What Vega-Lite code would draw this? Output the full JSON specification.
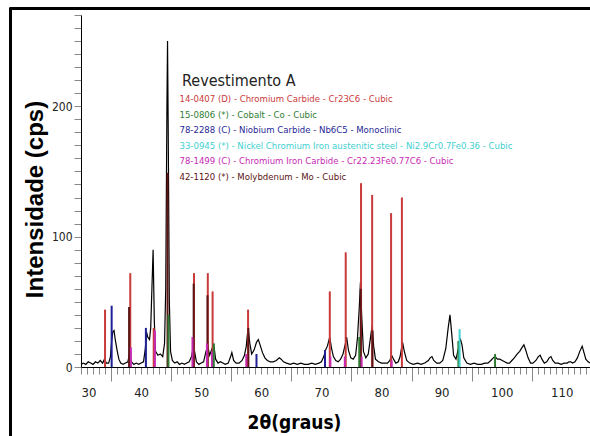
{
  "$schema": "https://vega.github.io/schema/vega-lite/v6.json",
  "width": 509,
  "height": 352,
  "autosize": "none",
  "padding": {"left": 81, "top": 15, "right": 0, "bottom": 69},
  "background": "white",
  "config": {
    "view": {"stroke": null},
    "font": "DejaVu Sans Condensed, Liberation Sans, sans-serif"
  },
  "datasets": {
    "trace": [
      {"t":30.0,"cps":2},{"t":30.4,"cps":3},{"t":30.8,"cps":2},{"t":31.2,"cps":4},{"t":31.6,"cps":3},{"t":32.0,"cps":2},{"t":32.4,"cps":4},{"t":32.8,"cps":3},{"t":33.2,"cps":5},{"t":33.6,"cps":3},{"t":33.9,"cps":6},{"t":34.2,"cps":3},{"t":34.6,"cps":3},{"t":34.9,"cps":8},{"t":35.1,"cps":20},{"t":35.3,"cps":27},{"t":35.5,"cps":28},{"t":35.7,"cps":21},{"t":36.0,"cps":13},{"t":36.3,"cps":6},{"t":36.6,"cps":3},{"t":37.0,"cps":2},{"t":37.4,"cps":3},{"t":37.8,"cps":4},{"t":38.1,"cps":11},{"t":38.4,"cps":4},{"t":38.8,"cps":2},{"t":39.2,"cps":3},{"t":39.6,"cps":2},{"t":40.0,"cps":3},{"t":40.4,"cps":4},{"t":40.7,"cps":14},{"t":40.9,"cps":27},{"t":41.1,"cps":23},{"t":41.4,"cps":21},{"t":41.6,"cps":30},{"t":41.8,"cps":60},{"t":42.0,"cps":90},{"t":42.2,"cps":35},{"t":42.4,"cps":12},{"t":42.8,"cps":9},{"t":43.2,"cps":10},{"t":43.6,"cps":8},{"t":43.9,"cps":18},{"t":44.1,"cps":60},{"t":44.3,"cps":200},{"t":44.4,"cps":250},{"t":44.5,"cps":190},{"t":44.7,"cps":50},{"t":44.9,"cps":12},{"t":45.2,"cps":5},{"t":45.6,"cps":3},{"t":46.0,"cps":4},{"t":46.4,"cps":2},{"t":46.8,"cps":3},{"t":47.2,"cps":2},{"t":47.6,"cps":3},{"t":48.0,"cps":4},{"t":48.4,"cps":8},{"t":48.7,"cps":16},{"t":48.9,"cps":12},{"t":49.2,"cps":4},{"t":49.6,"cps":2},{"t":50.0,"cps":3},{"t":50.4,"cps":4},{"t":50.8,"cps":12},{"t":51.1,"cps":16},{"t":51.4,"cps":9},{"t":51.8,"cps":14},{"t":52.1,"cps":17},{"t":52.4,"cps":6},{"t":52.8,"cps":3},{"t":53.2,"cps":4},{"t":53.6,"cps":3},{"t":54.0,"cps":2},{"t":54.5,"cps":3},{"t":54.9,"cps":8},{"t":55.1,"cps":11},{"t":55.4,"cps":5},{"t":55.8,"cps":3},{"t":56.3,"cps":3},{"t":56.8,"cps":5},{"t":57.2,"cps":9},{"t":57.5,"cps":16},{"t":57.8,"cps":30},{"t":58.1,"cps":18},{"t":58.4,"cps":10},{"t":58.8,"cps":13},{"t":59.2,"cps":19},{"t":59.5,"cps":21},{"t":59.8,"cps":17},{"t":60.2,"cps":11},{"t":60.6,"cps":7},{"t":61.0,"cps":5},{"t":61.5,"cps":4},{"t":62.0,"cps":4},{"t":62.5,"cps":5},{"t":63.0,"cps":7},{"t":63.3,"cps":6},{"t":63.7,"cps":4},{"t":64.2,"cps":3},{"t":64.8,"cps":2},{"t":65.4,"cps":3},{"t":66.0,"cps":2},{"t":66.6,"cps":3},{"t":67.2,"cps":2},{"t":67.8,"cps":2},{"t":68.4,"cps":3},{"t":69.0,"cps":2},{"t":69.6,"cps":3},{"t":70.0,"cps":4},{"t":70.4,"cps":8},{"t":70.7,"cps":13},{"t":71.0,"cps":16},{"t":71.4,"cps":23},{"t":71.7,"cps":14},{"t":72.0,"cps":8},{"t":72.4,"cps":5},{"t":72.8,"cps":4},{"t":73.2,"cps":6},{"t":73.6,"cps":10},{"t":74.0,"cps":18},{"t":74.2,"cps":23},{"t":74.5,"cps":13},{"t":74.9,"cps":7},{"t":75.3,"cps":6},{"t":75.7,"cps":9},{"t":76.0,"cps":22},{"t":76.3,"cps":45},{"t":76.5,"cps":65},{"t":76.7,"cps":40},{"t":77.0,"cps":12},{"t":77.4,"cps":7},{"t":77.8,"cps":10},{"t":78.1,"cps":20},{"t":78.45,"cps":32},{"t":78.7,"cps":16},{"t":79.0,"cps":6},{"t":79.5,"cps":4},{"t":80.0,"cps":3},{"t":80.5,"cps":3},{"t":81.0,"cps":3},{"t":81.4,"cps":5},{"t":81.7,"cps":9},{"t":82.0,"cps":6},{"t":82.4,"cps":3},{"t":82.8,"cps":4},{"t":83.1,"cps":8},{"t":83.5,"cps":19},{"t":83.8,"cps":12},{"t":84.2,"cps":5},{"t":84.7,"cps":3},{"t":85.3,"cps":2},{"t":86.0,"cps":3},{"t":86.6,"cps":2},{"t":87.2,"cps":3},{"t":87.8,"cps":5},{"t":88.1,"cps":7},{"t":88.4,"cps":8},{"t":88.7,"cps":5},{"t":89.2,"cps":3},{"t":89.7,"cps":3},{"t":90.2,"cps":5},{"t":90.7,"cps":14},{"t":91.1,"cps":30},{"t":91.4,"cps":40},{"t":91.7,"cps":25},{"t":92.0,"cps":9},{"t":92.4,"cps":6},{"t":92.8,"cps":14},{"t":93.1,"cps":22},{"t":93.4,"cps":17},{"t":93.7,"cps":7},{"t":94.2,"cps":3},{"t":94.8,"cps":2},{"t":95.4,"cps":3},{"t":96.0,"cps":2},{"t":96.6,"cps":2},{"t":97.2,"cps":3},{"t":97.7,"cps":3},{"t":98.2,"cps":5},{"t":98.6,"cps":7},{"t":98.9,"cps":8},{"t":99.3,"cps":6},{"t":99.7,"cps":6},{"t":100.1,"cps":5},{"t":100.5,"cps":4},{"t":100.9,"cps":3},{"t":101.3,"cps":3},{"t":101.7,"cps":5},{"t":102.1,"cps":7},{"t":102.6,"cps":10},{"t":103.0,"cps":12},{"t":103.4,"cps":15},{"t":103.7,"cps":17},{"t":104.0,"cps":13},{"t":104.4,"cps":7},{"t":104.8,"cps":3},{"t":105.2,"cps":3},{"t":105.7,"cps":5},{"t":106.1,"cps":8},{"t":106.4,"cps":9},{"t":106.7,"cps":6},{"t":107.1,"cps":3},{"t":107.5,"cps":4},{"t":107.9,"cps":7},{"t":108.2,"cps":8},{"t":108.5,"cps":5},{"t":108.9,"cps":3},{"t":109.4,"cps":3},{"t":109.9,"cps":2},{"t":110.4,"cps":3},{"t":110.9,"cps":3},{"t":111.2,"cps":4},{"t":111.5,"cps":4},{"t":111.8,"cps":3},{"t":112.2,"cps":4},{"t":112.6,"cps":7},{"t":113.0,"cps":12},{"t":113.4,"cps":16},{"t":113.7,"cps":11},{"t":114.0,"cps":6},{"t":114.4,"cps":4},{"t":114.7,"cps":3}
    ],
    "sticks": [
      {"phase":"14-0407 (D) - Chromium Carbide - Cr23C6 - Cubic","t":34.0,"cps":44},
      {"phase":"14-0407 (D) - Chromium Carbide - Cr23C6 - Cubic","t":38.2,"cps":72},
      {"phase":"14-0407 (D) - Chromium Carbide - Cr23C6 - Cubic","t":42.1,"cps":30},
      {"phase":"14-0407 (D) - Chromium Carbide - Cr23C6 - Cubic","t":48.8,"cps":72},
      {"phase":"14-0407 (D) - Chromium Carbide - Cr23C6 - Cubic","t":51.1,"cps":72},
      {"phase":"14-0407 (D) - Chromium Carbide - Cr23C6 - Cubic","t":51.9,"cps":58},
      {"phase":"14-0407 (D) - Chromium Carbide - Cr23C6 - Cubic","t":57.8,"cps":44},
      {"phase":"14-0407 (D) - Chromium Carbide - Cr23C6 - Cubic","t":71.4,"cps":58},
      {"phase":"14-0407 (D) - Chromium Carbide - Cr23C6 - Cubic","t":74.05,"cps":88},
      {"phase":"14-0407 (D) - Chromium Carbide - Cr23C6 - Cubic","t":76.6,"cps":141},
      {"phase":"14-0407 (D) - Chromium Carbide - Cr23C6 - Cubic","t":78.45,"cps":132},
      {"phase":"14-0407 (D) - Chromium Carbide - Cr23C6 - Cubic","t":81.6,"cps":118},
      {"phase":"14-0407 (D) - Chromium Carbide - Cr23C6 - Cubic","t":83.4,"cps":130},
      {"phase":"42-1120 (*) - Molybdenum - Mo - Cubic","t":38.0,"cps":46},
      {"phase":"42-1120 (*) - Molybdenum - Mo - Cubic","t":44.4,"cps":149},
      {"phase":"42-1120 (*) - Molybdenum - Mo - Cubic","t":48.75,"cps":64},
      {"phase":"42-1120 (*) - Molybdenum - Mo - Cubic","t":51.05,"cps":55},
      {"phase":"42-1120 (*) - Molybdenum - Mo - Cubic","t":57.85,"cps":30},
      {"phase":"42-1120 (*) - Molybdenum - Mo - Cubic","t":76.55,"cps":60},
      {"phase":"42-1120 (*) - Molybdenum - Mo - Cubic","t":78.5,"cps":28},
      {"phase":"78-1499 (C) - Chromium Iron Carbide - Cr22.23Fe0.77C6 - Cubic","t":38.3,"cps":15},
      {"phase":"78-1499 (C) - Chromium Iron Carbide - Cr22.23Fe0.77C6 - Cubic","t":42.3,"cps":28},
      {"phase":"78-1499 (C) - Chromium Iron Carbide - Cr22.23Fe0.77C6 - Cubic","t":48.55,"cps":23},
      {"phase":"78-1499 (C) - Chromium Iron Carbide - Cr22.23Fe0.77C6 - Cubic","t":50.95,"cps":18},
      {"phase":"78-1499 (C) - Chromium Iron Carbide - Cr22.23Fe0.77C6 - Cubic","t":51.8,"cps":12},
      {"phase":"78-1499 (C) - Chromium Iron Carbide - Cr22.23Fe0.77C6 - Cubic","t":57.5,"cps":10},
      {"phase":"78-1499 (C) - Chromium Iron Carbide - Cr22.23Fe0.77C6 - Cubic","t":71.5,"cps":8},
      {"phase":"78-1499 (C) - Chromium Iron Carbide - Cr22.23Fe0.77C6 - Cubic","t":73.9,"cps":8},
      {"phase":"78-1499 (C) - Chromium Iron Carbide - Cr22.23Fe0.77C6 - Cubic","t":76.7,"cps":8},
      {"phase":"78-1499 (C) - Chromium Iron Carbide - Cr22.23Fe0.77C6 - Cubic","t":81.7,"cps":5},
      {"phase":"78-2288 (C) - Niobium Carbide - Nb6C5 - Monoclinic","t":35.1,"cps":47},
      {"phase":"78-2288 (C) - Niobium Carbide - Nb6C5 - Monoclinic","t":40.8,"cps":30},
      {"phase":"78-2288 (C) - Niobium Carbide - Nb6C5 - Monoclinic","t":59.2,"cps":10},
      {"phase":"78-2288 (C) - Niobium Carbide - Nb6C5 - Monoclinic","t":70.6,"cps":13},
      {"phase":"15-0806 (*) - Cobalt - Co - Cubic","t":44.55,"cps":40},
      {"phase":"15-0806 (*) - Cobalt - Co - Cubic","t":52.1,"cps":18},
      {"phase":"15-0806 (*) - Cobalt - Co - Cubic","t":76.3,"cps":23},
      {"phase":"15-0806 (*) - Cobalt - Co - Cubic","t":92.8,"cps":20},
      {"phase":"15-0806 (*) - Cobalt - Co - Cubic","t":98.9,"cps":10},
      {"phase":"33-0945 (*) - Nickel Chromium Iron austenitic steel - Ni2.9Cr0.7Fe0.36 - Cubic","t":93.0,"cps":29}
    ]
  },
  "layer": [
    {
      "data": {"name": "trace"},
      "mark": {"type": "line", "color": "black", "strokeWidth": 1.2},
      "encoding": {
        "x": {
          "field": "t", "type": "quantitative",
          "scale": {"domain": [30, 114.7], "nice": false, "zero": false},
          "axis": {
            "tickCount": 85,
            "tickSize": {"condition": {"test": "datum.value % 10 === 5", "value": 14}, "value": 7},
            "domainColor": "black",
            "labelExpr": "datum.value % 10 === 0 ? datum.label : ''",
            "labelOverlap": false,
            "labelFontSize": 13,
            "labelColor": "#222",
            "labelPadding": 12,
            "grid": false,
            "title": "2θ(graus)",
            "titleFontSize": 19,
            "titleColor": "black",
            "titleX": 213,
            "titlePadding": 7
          }
        },
        "y": {
          "field": "cps", "type": "quantitative",
          "scale": {"domain": [0, 270], "nice": false},
          "axis": {
            "tickCount": 27,
            "tickSize": 7,
            "domainColor": "black",
            "labelExpr": "datum.value % 100 === 0 ? datum.label : ''",
            "labelOverlap": false,
            "labelFontSize": 12,
            "labelColor": "#222",
            "labelPadding": 2,
            "grid": false,
            "title": "Intensidade (cps)",
            "titleFont": "Liberation Sans",
            "titleFontSize": 24,
            "titleColor": "black",
            "titlePadding": 4,
            "titleY": 184
          }
        }
      }
    },
    {
      "data": {"name": "sticks"},
      "mark": {"type": "rule", "strokeWidth": 2},
      "encoding": {
        "x": {"field": "t", "type": "quantitative"},
        "y": {"field": "cps", "type": "quantitative"},
        "y2": {"datum": 0},
        "color": {
          "field": "phase", "type": "nominal",
          "scale": {
            "domain": [
              "14-0407 (D) - Chromium Carbide - Cr23C6 - Cubic",
              "15-0806 (*) - Cobalt - Co - Cubic",
              "78-2288 (C) - Niobium Carbide - Nb6C5 - Monoclinic",
              "33-0945 (*) - Nickel Chromium Iron austenitic steel - Ni2.9Cr0.7Fe0.36 - Cubic",
              "78-1499 (C) - Chromium Iron Carbide - Cr22.23Fe0.77C6 - Cubic",
              "42-1120 (*) - Molybdenum - Mo - Cubic"
            ],
            "range": ["#C93A3A", "#2E7D32", "#1F1F96", "#3FD0D0", "#C82AB4", "#5C1414"]
          },
          "legend": {
            "orient": "none",
            "legendX": 101,
            "legendY": 58,
            "direction": "vertical",
            "title": "Revestimento A",
            "titleFontSize": 16,
            "titleFontWeight": "normal",
            "titleColor": "#222",
            "titlePadding": 5.5,
            "labelFontSize": 9.5,
            "labelLimit": 600,
            "labelOffset": -12,
            "symbolSize": 0,
            "symbolStrokeWidth": 0,
            "symbolOpacity": 0,
            "rowPadding": 4.5,
            "padding": 0,
            "encode": {"labels": {"update": {"fill": {"scale": "color", "field": "value"}}}}
          }
        }
      }
    },
    {
      "data": {"values": [{}]},
      "mark": {"type": "rule", "color": "black", "strokeWidth": 3, "clip": false},
      "encoding": {"x": {"datum": 18.27}, "y": {"datum": 275.5}, "y2": {"datum": -60}}
    },
    {
      "data": {"values": [{}]},
      "mark": {"type": "rule", "color": "black", "strokeWidth": 3, "clip": false},
      "encoding": {"x": {"datum": 18.1}, "x2": {"datum": 117}, "y": {"datum": 275}}
    }
  ]
}
